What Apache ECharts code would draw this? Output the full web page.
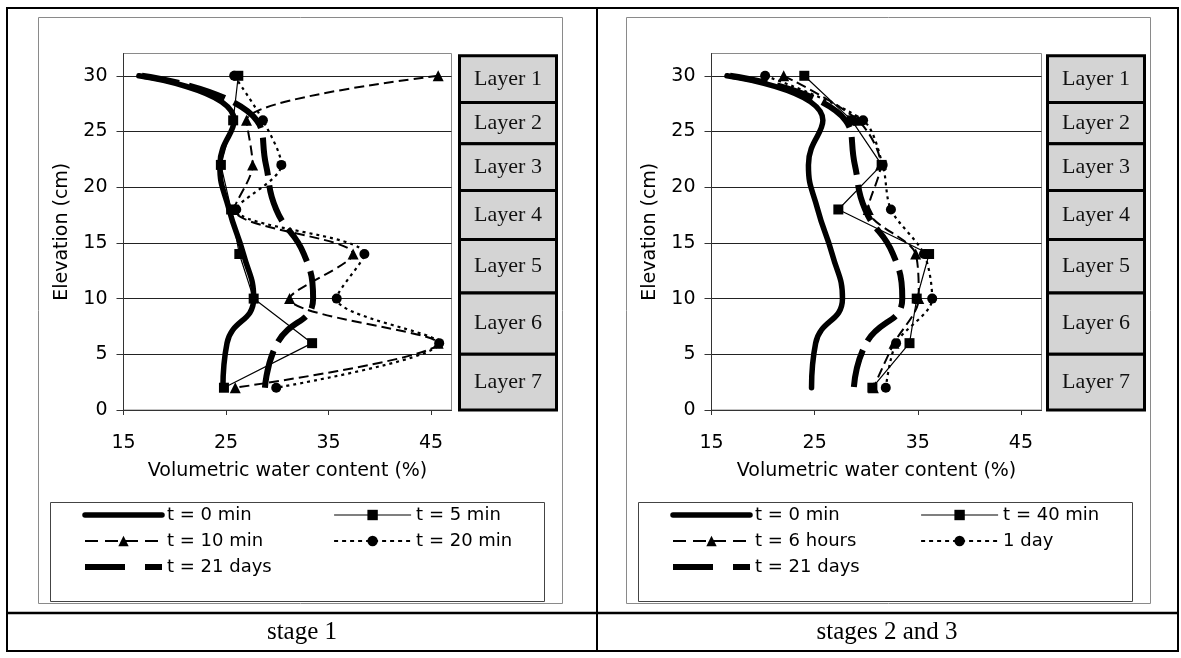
<!DOCTYPE html>
<html>
<head>
<meta charset="utf-8">
<script src="https://cdn.jsdelivr.net/npm/echarts@6.0.0/dist/echarts.min.js"></script>
<style>
  html, body { margin: 0; padding: 0; background: #fff; }
  #chart { width: 1181px; height: 658px; }
</style>
</head>
<body>
<div id="chart"></div>
<script>
// sensor elevations (cm), top to bottom
const elevation = [30, 26, 22, 18, 14, 10, 6, 2];
const xTicks = [15, 25, 35, 45];
const yTicks = [0, 5, 10, 15, 20, 25, 30];

// layer column: names and boundaries (cm), top to bottom
const layerNames = ['Layer 1', 'Layer 2', 'Layer 3', 'Layer 4', 'Layer 5', 'Layer 6', 'Layer 7'];
const layerBounds = [31.8, 27.6, 23.9, 19.7, 15.3, 10.5, 5.0, 0];

// stage 1 - volumetric water content (%)
const st1_t0 = [16.5, 25.8, 24.4, 25.3, 26.7, 27.7, 25.1, 24.7];
const st1_t5 = [26.2, 25.7, 24.5, 25.5, 26.3, 27.7, 33.4, 24.8];
const st1_t10 = [45.7, 27.0, 27.6, 25.8, 37.4, 31.2, 45.7, 25.9];
const st1_t20 = [25.8, 28.6, 30.4, 26.0, 38.5, 35.8, 45.8, 29.9];
const st1_t21d = [16.8, 28.0, 28.9, 29.9, 32.6, 33.5, 30.0, 28.8];

// stages 2 and 3
const st2_t0 = [16.5, 25.8, 24.4, 25.3, 26.7, 27.7, 25.1, 24.7];
const st2_t40 = [24.0, 28.6, 31.5, 27.3, 36.1, 34.9, 34.2, 30.6];
const st2_t6h = [22.0, 29.2, 31.4, 30.2, 34.8, 35.1, 32.7, 30.7];
const st2_t1d = [20.2, 29.7, 31.6, 32.4, 35.6, 36.4, 32.9, 31.9];
const st2_t21d = [16.8, 28.0, 28.9, 29.9, 32.6, 33.5, 30.0, 28.8];

const SANS = 'DejaVu Sans';
const SERIF = 'Liberation Serif';

const look = {
  thick:  { line: { width: 5.5, cap: 'round' }, symbol: 'none', smooth: 0.5, z: 3 },
  thin:   { line: { width: 1.2 }, symbol: 'rect', size: 10, smooth: false, z: 4 },
  dash:   { line: { width: 2, type: [10, 5] }, symbol: 'triangle', size: 11, smooth: 0.3, z: 4 },
  dot:    { line: { width: 2.2, type: [3, 4] }, symbol: 'circle', size: 10, smooth: 0.3, z: 4 },
  long:   { line: { width: 6, type: [38, 10] }, symbol: 'none', smooth: 0.5, z: 3 },
};

// legend keys (line samples are drawn a bit differently from the plot lines)
const keyThick = { itemStyle: { opacity: 0 }, lineStyle: { width: 5.5, cap: 'round', type: 'solid' } };
const keyThin = { lineStyle: { width: 1.2, type: 'solid' } };
const keyDash = { lineStyle: { width: 2, type: [13, 7] } };
const keyDot = { lineStyle: { width: 2.2, type: [4, 4] } };
const keyLong = { itemStyle: { opacity: 0 }, lineStyle: { width: 6, type: [40, 20] } };

function line(name, xs, st, g) {
  return {
    name, type: 'line',
    xAxisIndex: g, yAxisIndex: g,
    data: xs.map((x, i) => [x, elevation[i]]),
    symbol: st.symbol, symbolSize: st.size || 0,
    showSymbol: st.symbol !== 'none',
    smooth: st.smooth,
    lineStyle: Object.assign({ color: '#000' }, st.line),
    itemStyle: { color: '#000' },
    z: st.z, silent: true, animation: false,
  };
}

function layers(g) {
  return {
    type: 'custom', xAxisIndex: g, yAxisIndex: g, silent: true, animation: false, z: 2,
    data: layerNames.map((n, i) => [layerBounds[i + 1], layerBounds[i]]),
    renderItem: (params, api) => {
      const a = api.coord([0, api.value(1)]);
      const b = api.coord([1, api.value(0)]);
      return {
        type: 'rect',
        shape: { x: a[0], y: a[1], width: b[0] - a[0], height: b[1] - a[1] },
        style: { fill: '#d4d4d4', stroke: '#000', lineWidth: 3 },
        textContent: { style: { text: layerNames[params.dataIndex], fontSize: 22, fontFamily: SERIF, fill: '#111' } },
        textConfig: { position: 'inside' },
      };
    },
  };
}

function xAx(g) {
  return {
    gridIndex: g, type: 'value', min: 15, max: 47, interval: 10,
    name: 'Volumetric water content (%)', nameLocation: 'middle', nameGap: 52,
    nameTextStyle: { fontSize: 19, fontFamily: SANS, color: '#000' },
    axisLine: { lineStyle: { color: '#333', width: 1 } },
    axisTick: { show: true, length: 5, lineStyle: { color: '#333' }, customValues: xTicks },
    axisLabel: { fontSize: 19, fontFamily: SANS, color: '#000', margin: 24, customValues: xTicks },
    splitLine: { show: false },
  };
}

function yAx(g) {
  return {
    gridIndex: g, type: 'value', min: 0, max: 32, interval: 5,
    name: 'Elevation (cm)', nameLocation: 'middle', nameGap: 52,
    nameTextStyle: { fontSize: 19, fontFamily: SANS, color: '#000' },
    axisLine: { show: true, lineStyle: { color: '#333', width: 1 } },
    axisTick: { show: true, length: 7, lineStyle: { color: '#333' }, customValues: yTicks },
    axisLabel: { fontSize: 19, fontFamily: SANS, color: '#000', margin: 16, customValues: yTicks },
    splitLine: { show: true, lineStyle: { color: '#222', width: 1 } },
  };
}

const hidden = (g, max) => ({ gridIndex: g, type: 'value', min: 0, max, show: false });

const legendBase = {
  orient: 'vertical', padding: 0, itemWidth: 77, itemHeight: 13, itemGap: 8,
  selectedMode: false,
  textStyle: { fontSize: 18, fontFamily: SANS, color: '#000', lineHeight: 18 },
};

const chart = echarts.init(document.getElementById('chart'), null, { renderer: 'canvas' });
chart.setOption({
  backgroundColor: '#fff',
  animation: false,
  grid: [
    { left: 123.5, top: 53.5, width: 328, height: 356.5, show: true, borderColor: '#8a8a8a', borderWidth: 1 },
    { left: 711.5, top: 53.5, width: 330, height: 356.5, show: true, borderColor: '#8a8a8a', borderWidth: 1 },
    { left: 459.5, top: 53.5, width: 97, height: 356.5 },
    { left: 1047.5, top: 53.5, width: 97, height: 356.5 },
  ],
  xAxis: [xAx(0), xAx(1), hidden(2, 1), hidden(3, 1)],
  yAxis: [yAx(0), yAx(1), hidden(2, 32), hidden(3, 32)],
  legend: [
    Object.assign({}, legendBase, { left: 82, top: 506, data: [
      Object.assign({ name: 't = 0 min' }, keyThick),
      Object.assign({ name: 't = 10 min' }, keyDash),
      Object.assign({ name: 't = 21 days' }, keyLong),
    ] }),
    Object.assign({}, legendBase, { left: 333, top: 506, data: [
      Object.assign({ name: 't = 5 min' }, keyThin),
      Object.assign({ name: 't = 20 min' }, keyDot),
    ] }),
    Object.assign({}, legendBase, { left: 670, top: 506, data: [
      Object.assign({ name: 't = 0 min' }, keyThick),
      Object.assign({ name: 't = 6 hours' }, keyDash),
      Object.assign({ name: 't = 21 days' }, keyLong),
    ] }),
    Object.assign({}, legendBase, { left: 920, top: 506, data: [
      Object.assign({ name: 't = 40 min' }, keyThin),
      Object.assign({ name: '1 day' }, keyDot),
    ] }),
  ],
  graphic: [
    // table
    { type: 'rect', silent: true, shape: { x: 7, y: 8, width: 1171, height: 643 }, style: { fill: null, stroke: '#000', lineWidth: 2 } },
    { type: 'line', silent: true, shape: { x1: 597, y1: 8, x2: 597, y2: 651 }, style: { stroke: '#000', lineWidth: 2 } },
    { type: 'line', silent: true, shape: { x1: 7, y1: 613, x2: 1178, y2: 613 }, style: { stroke: '#000', lineWidth: 2.5 } },
    // chart frames
    { type: 'rect', silent: true, shape: { x: 38.5, y: 17.5, width: 524, height: 586 }, style: { fill: null, stroke: '#8a8a8a', lineWidth: 1 } },
    { type: 'rect', silent: true, shape: { x: 626.5, y: 17.5, width: 524, height: 586 }, style: { fill: null, stroke: '#8a8a8a', lineWidth: 1 } },
    // legend boxes
    { type: 'rect', silent: true, shape: { x: 50.5, y: 502.5, width: 494, height: 99 }, style: { fill: null, stroke: '#444', lineWidth: 1 } },
    { type: 'rect', silent: true, shape: { x: 638.5, y: 502.5, width: 494, height: 99 }, style: { fill: null, stroke: '#444', lineWidth: 1 } },
    // captions
    { type: 'text', silent: true, x: 302, y: 632, style: { text: 'stage 1', fontSize: 25, fontFamily: SERIF, fill: '#000', textAlign: 'center', textVerticalAlign: 'middle' } },
    { type: 'text', silent: true, x: 887, y: 632, style: { text: 'stages 2 and 3', fontSize: 25, fontFamily: SERIF, fill: '#000', textAlign: 'center', textVerticalAlign: 'middle' } },
  ],
  series: [
    line('t = 0 min', st1_t0, look.thick, 0),
    line('t = 21 days', st1_t21d, look.long, 0),
    line('t = 5 min', st1_t5, look.thin, 0),
    line('t = 10 min', st1_t10, look.dash, 0),
    line('t = 20 min', st1_t20, look.dot, 0),
    line('t = 0 min', st2_t0, look.thick, 1),
    line('t = 21 days', st2_t21d, look.long, 1),
    line('t = 40 min', st2_t40, look.thin, 1),
    line('t = 6 hours', st2_t6h, look.dash, 1),
    line('1 day', st2_t1d, look.dot, 1),
    layers(2),
    layers(3),
  ],
});
</script>
</body>
</html>
